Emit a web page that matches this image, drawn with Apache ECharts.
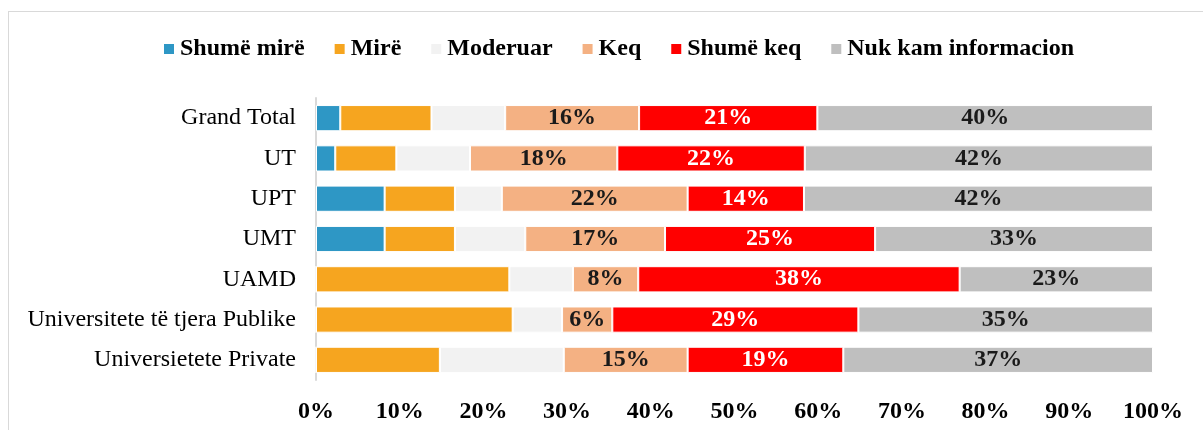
<!DOCTYPE html>
<html>
<head>
<meta charset="utf-8">
<script src="https://cdn.jsdelivr.net/npm/echarts@6/dist/echarts.min.js"></script>
<style>
  html, body { margin: 0; padding: 0; background: #fff; }
  #frame { position: absolute; left: 8px; top: 11px; width: 1220px; height: 440px; border: 1px solid #d9d9d9; box-sizing: border-box; }
  #chart { position: absolute; left: 0; top: 0; width: 1203px; height: 430px; }
</style>
</head>
<body>
<div id="frame"></div>
<div id="chart"></div>
<script>
// kategorite, nga lart poshte
const categories = ['Grand Total', 'UT', 'UPT', 'UMT', 'UAMD', 'Universitete të tjera Publike', 'Universietete Private'];

// vlerat ne % per cdo kategori
const shumeMire = [2.9, 2.3, 8.2, 8.2, 0, 0, 0];
const mire = [10.9, 7.3, 8.4, 8.4, 23.1, 23.5, 14.8];
const moderuar = [8.8, 8.8, 5.6, 8.4, 7.6, 5.9, 14.8];
const keq = [16.0, 17.6, 22.2, 16.7, 7.8, 6.0, 14.8];
const shumeKeq = [21.3, 22.4, 13.9, 25.1, 38.4, 29.4, 18.6];
const nukKam = [40.1, 41.6, 41.7, 33.2, 23.1, 35.2, 37.0];

const FONT = '"Liberation Serif", "Times New Roman", serif';

const myChart = echarts.init(document.getElementById('chart'));

const pctLabel = (color) => ({
  show: true,
  position: 'inside',
  fontFamily: FONT,
  fontWeight: 'bold',
  fontSize: 24,
  color: color,
  formatter: (p) => Math.round(p.value) + '%',
});

const mkSeries = (name, data, color, label) => ({
  name: name,
  type: 'bar',
  stack: 'total',
  barCategoryGap: '35%',
  itemStyle: { color: color, borderColor: '#fff', borderWidth: 1 },
  label: label || { show: false },
  emphasis: { disabled: true },
  data: data,
});

const option = {
  animation: false,
  legend: {
    top: 32,
    left: 157,
    itemWidth: 12,
    itemHeight: 12,
    itemGap: 28,
    icon: 'rect',
    textStyle: { fontFamily: FONT, fontWeight: 'bold', fontSize: 24, color: '#000' },
  },
  grid: { left: 316, right: 50, top: 98, height: 282 },
  xAxis: {
    type: 'value',
    min: 0,
    max: 100,
    interval: 10,
    axisLine: { show: false },
    axisTick: { show: false },
    splitLine: { show: false },
    axisLabel: {
      margin: 20,
      fontFamily: FONT,
      fontWeight: 'bold',
      fontSize: 24,
      color: '#000',
      formatter: '{value}%',
    },
  },
  yAxis: {
    type: 'category',
    inverse: true,
    data: categories,
    axisLine: { show: true, lineStyle: { color: '#d9d9d9', width: 2 } },
    axisTick: { show: false },
    axisLabel: { margin: 20, fontFamily: FONT, fontSize: 24, color: '#000' },
  },
  series: [
    mkSeries('Shumë mirë', shumeMire, '#2e97c5'),
    mkSeries('Mirë', mire, '#f6a51f'),
    mkSeries('Moderuar', moderuar, '#f2f2f2'),
    mkSeries('Keq', keq, '#f4b183', pctLabel('#1a1a1a')),
    mkSeries('Shumë keq', shumeKeq, '#ff0000', pctLabel('#ffffff')),
    mkSeries('Nuk kam informacion', nukKam, '#bfbfbf', pctLabel('#1a1a1a')),
  ],
};

myChart.setOption(option);
window.addEventListener('resize', () => {
  myChart.resize();
});
</script>
</body>
</html>
